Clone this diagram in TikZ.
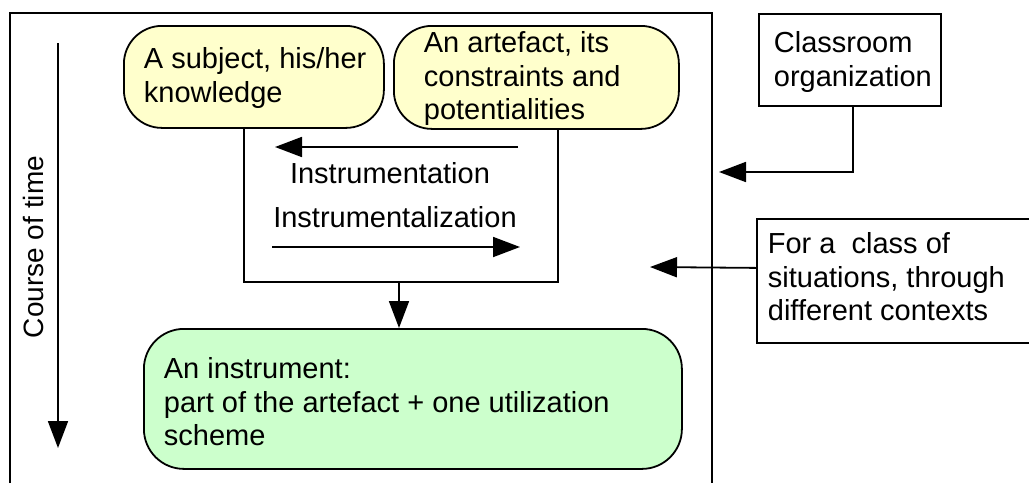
\documentclass[tikz,border=0pt]{standalone}
\usepackage{fontspec}
\setmainfont{Liberation Sans}
\usetikzlibrary{arrows.meta}
\definecolor{yellowfill}{HTML}{FFFFCC}
\definecolor{greenfill}{HTML}{CCFFCC}
\begin{document}
\begin{tikzpicture}[x=1pt,y=-1pt,
  line width=1.8pt,
  tip/.style={-{Triangle[length=27pt,width=20pt]}},
  yellowbox/.style={draw, fill=yellowfill, rounded corners=38pt, inner sep=0pt},
  greenbox/.style={draw, fill=greenfill, rounded corners=40pt, inner sep=0pt},
  plainbox/.style={draw, fill=white, inner sep=0pt},
  ghost/.style={inner sep=0pt, outer sep=0pt},
  txt/.style={font=\fontsize{29}{33.5}\selectfont, align=left, inner sep=0pt, anchor=north west},
  lbl/.style={font=\fontsize{29}{33.5}\selectfont, inner sep=0pt, anchor=base},
]
\useasboundingbox (0,0) rectangle (1029,483);
\fill[white] (0,0) rectangle (1029,483);

% outer frame (open at the bottom)
\draw (10,483) -- (10,13) -- (712,13) -- (712,483);

% course of time
\coordinate (t0) at (58,43);
\coordinate (t1) at (58,448);
\draw[tip] (t0) -- (t1);
\node[font=\fontsize{28}{32}\selectfont, rotate=90, inner sep=0pt] (time) at (33,247) {Course of time};

% middle rectangle (three sides)
\node[ghost, minimum width=314pt, minimum height=155pt, anchor=south west] (mid) at (244,282) {};
\draw (mid.north west) -- (mid.south west) -- (mid.south east) -- (mid.north east);

% yellow boxes
\node[yellowbox, minimum width=260pt, minimum height=102pt, anchor=north west] (subj) at (123,25) {};
\node[txt] (subjt) at (143,47) {A subject, his/her\\knowledge};
\node[yellowbox, minimum width=285pt, minimum height=103pt, anchor=north west] (arte) at (393,25) {};
\node[txt] (artet) at (423,31) {An artefact, its\\constraints and\\potentialities};

% instrumentation / instrumentalization
\coordinate (ia) at (518,147);
\coordinate (ib) at (275,147);
\draw[tip] (ia) -- (ib);
\node[lbl] (instr) at (390,183) {Instrumentation};
\node[lbl] (instrz) at (395,227) {Instrumentalization};
\coordinate (za) at (272,247);
\coordinate (zb) at (520,247);
\draw[tip] (za) -- (zb);

% green box
\node[greenbox, minimum width=538pt, minimum height=140pt, anchor=north west] (inst) at (143,328) {};
\node[txt] (instt) at (163,357) {An instrument:\\part of the artefact + one utilization\\scheme};
\draw[tip] ([xshift=-2pt]mid.south) -- ([xshift=-2pt]mid.south |- inst.north);

% classroom organization
\node[plainbox, minimum width=182pt, minimum height=92pt, anchor=north west] (class) at (758,13) {};
\node[txt] (classt) at (773,31) {Classroom\\organization};
\coordinate (c1) at (719,172);
\draw[tip] ([xshift=3pt]class.south) |- (c1);

% class of situations
\node[plainbox, minimum width=290pt, minimum height=124pt, anchor=north west] (situ) at (756,218) {};
\node[txt] (situt) at (767,232) {For a\ \ class of\\situations, through\\different contexts};
\coordinate (s1) at (650,267);
\draw[tip] ([yshift=13pt]situ.west) -- (s1);
\end{tikzpicture}
\end{document}
